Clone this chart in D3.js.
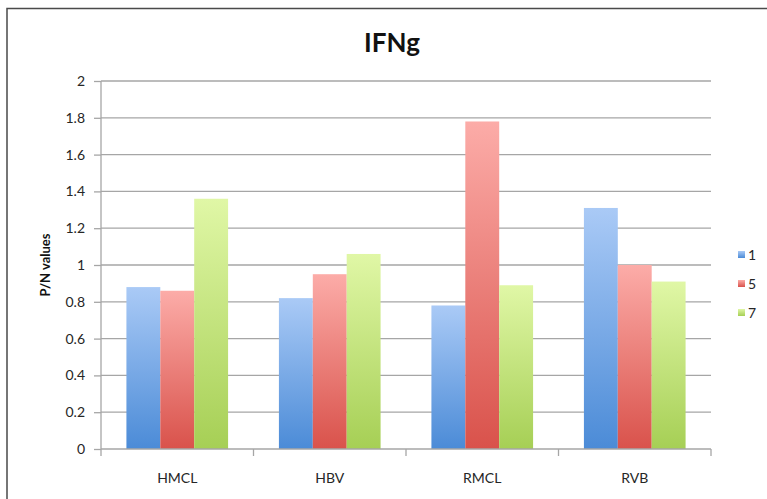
<!DOCTYPE html>
<html>
<head>
<meta charset="utf-8">
<script src="https://cdn.jsdelivr.net/npm/d3@7"></script>
<style>
  body { margin: 0; background: #fff; }
  svg { display: block; font-family: Lato, "Open Sans", sans-serif; }
</style>
</head>
<body>
<div id="chart"></div>
<script>
const categories = ["HMCL", "HBV", "RMCL", "RVB"];
const seriesNames = ["1", "5", "7"];
const series1 = [0.88, 0.82, 0.78, 1.31];
const series5 = [0.86, 0.95, 1.78, 1.00];
const series7 = [1.36, 1.06, 0.89, 0.91];
const yTicks = [0, 0.2, 0.4, 0.6, 0.8, 1, 1.2, 1.4, 1.6, 1.8, 2];

const colors = {
  "1": { top: "#aacaf6", bottom: "#4b8bd7" },
  "5": { top: "#fcaca8", bottom: "#d9524b" },
  "7": { top: "#e0f7a6", bottom: "#a6cf55" }
};

const cfg = { width: 767, height: 499, left: 101, right: 711, top: 81, bottom: 449 };

const svg = d3.select("#chart").append("svg")
  .attr("width", cfg.width)
  .attr("height", cfg.height);

// gradients per series
const defs = svg.append("defs");
seriesNames.forEach(s => {
  const g = defs.append("linearGradient")
    .attr("id", "grad" + s)
    .attr("x1", 0).attr("y1", 0).attr("x2", 0).attr("y2", 1);
  g.append("stop").attr("offset", "0%").attr("stop-color", colors[s].top);
  g.append("stop").attr("offset", "100%").attr("stop-color", colors[s].bottom);
});

// outer frame
svg.append("rect")
  .attr("x", 7).attr("y", 8.5)
  .attr("width", 800).attr("height", 520)
  .attr("fill", "none")
  .attr("stroke", "#4a4a4a")
  .attr("stroke-width", 1.5);

const x0 = d3.scaleBand().domain(categories).range([cfg.left, cfg.right]);
const x1 = d3.scaleBand().domain(seriesNames).range([0, x0.bandwidth()]).paddingOuter(0.75).paddingInner(0);
const y = d3.scaleLinear().domain([0, 2]).range([cfg.bottom, cfg.top]);

// gridlines
svg.append("g")
  .selectAll("line")
  .data(yTicks.filter(d => d > 0))
  .join("line")
  .attr("x1", cfg.left).attr("x2", cfg.right)
  .attr("y1", d => y(d)).attr("y2", d => y(d))
  .attr("stroke", "#a6a6a6")
  .attr("stroke-width", 1.3);

// bars
const data = categories.map((c, i) => ({
  cat: c,
  vals: [
    { s: "1", v: series1[i] },
    { s: "5", v: series5[i] },
    { s: "7", v: series7[i] }
  ]
}));

svg.append("g")
  .selectAll("g")
  .data(data)
  .join("g")
  .attr("transform", d => `translate(${x0(d.cat)},0)`)
  .selectAll("rect")
  .data(d => d.vals)
  .join("rect")
  .attr("x", d => x1(d.s))
  .attr("width", x1.bandwidth())
  .attr("y", d => y(d.v))
  .attr("height", d => y(0) - y(d.v))
  .attr("fill", d => `url(#grad${d.s})`);

// y axis
const yAxis = svg.append("g")
  .attr("transform", `translate(${cfg.left},0)`)
  .call(d3.axisLeft(y).tickValues(yTicks).tickSize(7).tickPadding(9).tickFormat(d3.format("~g")));
yAxis.select(".domain").attr("stroke", "#a6a6a6").attr("stroke-width", 1.3).attr("d", `M0,${cfg.top}V${cfg.bottom}`);
yAxis.selectAll(".tick line").attr("stroke", "#a6a6a6").attr("stroke-width", 1.3);
yAxis.selectAll(".tick text").attr("fill", "#262626").style("font-size", "14px").style("font-family", "Lato, sans-serif");

// x axis
const xAxis = svg.append("g")
  .attr("transform", `translate(0,${cfg.bottom})`)
  .call(d3.axisBottom(x0).tickSize(0).tickPadding(24));
xAxis.select(".domain").attr("stroke", "#a6a6a6").attr("stroke-width", 1.3).attr("d", `M${cfg.left},0H${cfg.right}`);
xAxis.selectAll(".tick text").attr("fill", "#262626").style("font-size", "14px").style("font-family", "Lato, sans-serif");
// tick marks at category boundaries
xAxis.selectAll(".sep")
  .data(categories.map(c => x0(c)).concat([cfg.right]))
  .join("line")
  .attr("class", "sep")
  .attr("x1", d => d).attr("x2", d => d)
  .attr("y1", 0).attr("y2", 7)
  .attr("stroke", "#a6a6a6")
  .attr("stroke-width", 1.3);

// title
svg.append("text")
  .attr("x", 392).attr("y", 52)
  .attr("text-anchor", "middle")
  .attr("fill", "#111")
  .style("font-size", "26px")
  .style("font-weight", "bold")
  .text("IFNg");

// y label
svg.append("text")
  .attr("transform", "translate(50,265) rotate(-90)")
  .attr("text-anchor", "middle")
  .attr("fill", "#111")
  .style("font-size", "13px")
  .style("font-weight", "bold")
  .text("P/N values");

// legend
const legend = svg.append("g")
  .selectAll("g")
  .data(seriesNames)
  .join("g")
  .attr("transform", (d, i) => `translate(738,${255 + i * 29})`);
legend.append("rect")
  .attr("x", 0).attr("y", -4)
  .attr("width", 7).attr("height", 7)
  .attr("fill", d => `url(#grad${d})`);
legend.append("text")
  .attr("x", 10).attr("y", 5)
  .attr("fill", "#262626")
  .style("font-size", "14px")
  .text(d => d);
</script>
</body>
</html>
